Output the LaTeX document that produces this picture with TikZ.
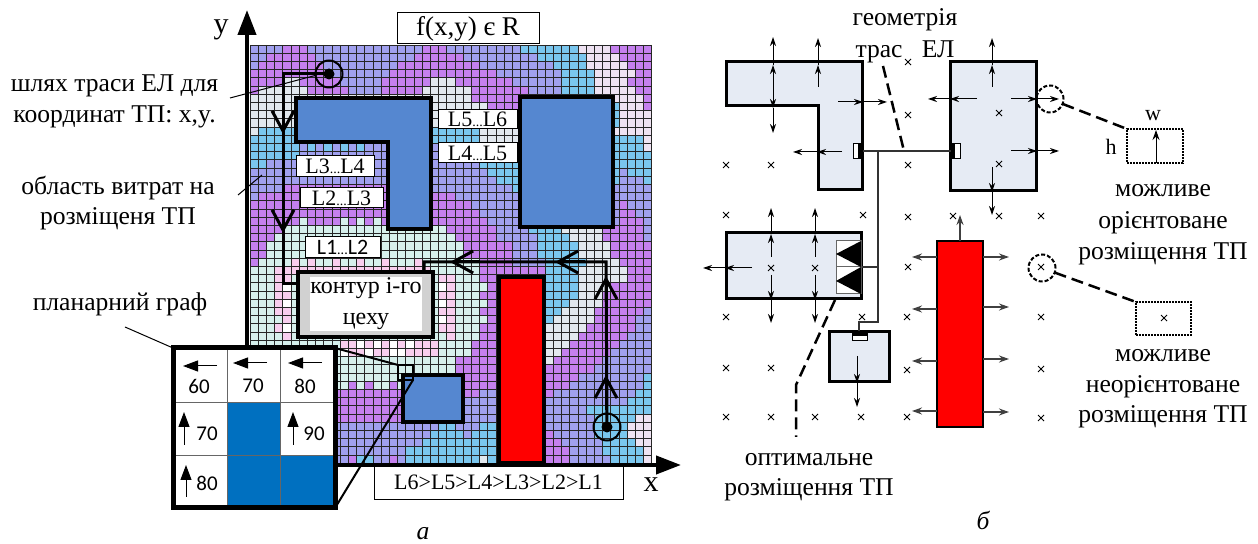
\documentclass[tikz,border=0pt]{standalone}
\usepackage{fontspec}
\setmainfont{Liberation Serif}
\setsansfont{Carlito}
\usetikzlibrary{arrows.meta, positioning, calc}
\definecolor{bv}{RGB}{196, 128, 238}
\definecolor{bp}{RGB}{160, 160, 238}
\definecolor{bs}{RGB}{122, 198, 238}
\definecolor{bg}{RGB}{226, 232, 238}
\definecolor{bl}{RGB}{238, 226, 242}
\definecolor{bt}{RGB}{214, 240, 236}
\definecolor{bk}{RGB}{248, 206, 238}
\definecolor{bw}{RGB}{255, 255, 255}
\definecolor{shopblue}{RGB}{85, 135, 208}
\definecolor{cellblue}{RGB}{0, 112, 192}
\definecolor{sitefill}{RGB}{230, 235, 244}
\tikzset{
  txt/.style        = {inner sep=0pt, outer sep=0pt, align=center, font=\fontsize{12.8}{15.3}\selectfont},
  lbox/.style       = {draw, fill=white, line width=0.5pt, inner sep=0pt, outer sep=0pt, font=\fontsize{11}{12}\selectfont},
  cellnum/.style    = {inner sep=0pt, outer sep=0pt, font=\sffamily\fontsize{10.5}{12}\selectfont},
  axisline/.style   = {line width=2pt, -{Triangle[length=12.5pt,width=9pt]}},
  routeline/.style  = {line width=1.5pt},
  routetip/.style   = {line width=1.5pt, -{Straight Barb[length=10pt,width=11pt,line width=1.5pt]}},
  shopwall/.style   = {draw, line width=2pt, fill=shopblue, line join=miter},
  sitewall/.style   = {draw, line width=1.5pt, fill=sitefill},
  tpring/.style     = {circle, draw, line width=1pt, minimum size=13.5pt, inner sep=0pt, outer sep=0pt},
  tpdot/.style      = {circle, fill, minimum size=5.5pt, inner sep=0pt, outer sep=0pt},
  cellgrid/.style   = {black!85, line width=0.35pt},
  cellarrow/.style  = {line width=0.5pt, -{Triangle[length=7.5pt,width=5.5pt]}},
  portarrow/.style  = {line width=0.5pt, -{Stealth[length=4.5pt,width=3pt]}},
  redarrow/.style   = {black!75, line width=0.75pt, -{Stealth[length=5pt,width=3.5pt]}},
  cable/.style      = {black!80, line width=0.75pt},
  leader/.style     = {line width=1.25pt, dash pattern=on 6pt off 3pt},
  dotbox/.style     = {draw, line width=1.25pt, dash pattern=on 1pt off 0.5pt, inner sep=0pt, outer sep=0pt},
  crosspt/.style    = {line width=0.5pt},
}

\begin{document}
\begin{tikzpicture}[x=0.5pt, y=-0.5pt]
\useasboundingbox (0,0) rectangle (1258,544);

% поле витрат
\begin{scope}[shift={(250,45)}, x=4.1pt, y=-4.1pt]
  \foreach \row [count=\j from 0] in {
    {p/4,v/7,p/21,v/24,p/33,s/40,l/44,v/49},
    {p/2,v/8,p/20,v/26,p/35,s/41,l/45,v/49},
    {p/1,v/9,p/18,v/28,p/37,s/41,l/46,v/49},
    {v/10,p/17,v/30,p/38,s/42,l/47,v/49},
    {v/4,g/6,v/11,p/16,v/22,g/25,v/32,p/38,s/42,l/46,v/49},
    {v/1,g/7,v/12,p/16,v/21,g/27,v/34,p/38,s/42,l/47,v/49},
    {g/27,v/34,s/44,l/48,v/49},
    {g/29,v/34,s/45,l/48,v/49},
    {g/34,s/45,l/49},
    {g/34,s/45,l/49},
    {g/1,s/28,g/34,l/49},
    {s/28,g/34,s/48,l/49},
    {s/6,p/7,s/8,p/9,s/10,p/11,s/12,p/13,s/14,p/23,s/48,l/49},
    {s/6,p/28,s/49},
    {s/2,p/28,s/49},
    {p/29,s/45,p/46,s/49},
    {p/30,s/45,p/48,s/49},
    {p/4,v/17,p/32,s/34,p/49},
    {p/1,v/25,p/49},
    {v/27,p/45,v/46,p/49},
    {v/28,p/45,v/47,p/49},
    {v/6,t/7,v/11,t/12,v/13,t/14,v/15,t/16,v/29,p/45,v/48,p/49},
    {v/4,t/24,v/30,p/34,s/38,g/43,v/48,p/49},
    {v/3,t/25,v/30,p/35,s/39,g/43,v/48,p/49},
    {v/2,t/26,v/32,p/35,s/40,g/44,v/49},
    {v/2,t/26,v/32,p/35,s/40,g/44,v/49},
    {v/1,t/5,k/6,t/7,k/8,t/10,k/11,t/13,k/14,t/16,k/17,t/20,k/21,t/28,v/32,p/36,s/41,g/45,v/49},
    {t/3,k/22,t/28,v/36,s/40,g/46,v/49},
    {t/3,k/5,t/23,k/25,t/28,v/36,s/40,g/46,v/49},
    {t/3,k/4,w/5,t/23,w/24,k/25,t/29,v/36,s/40,g/44,v/49},
    {t/3,k/5,t/23,k/25,t/28,v/36,s/40,g/43,v/49},
    {t/3,k/4,w/5,t/23,w/24,k/25,t/29,v/36,s/39,g/43,v/49},
    {t/3,k/5,t/23,k/25,t/28,v/36,s/38,g/42,v/48,p/49},
    {t/4,k/5,t/23,w/24,k/25,t/29,v/36,s/37,g/42,v/47,p/49},
    {t/3,k/4,w/5,t/23,k/25,t/28,v/36,g/41,v/47,p/49},
    {t/4,k/5,t/24,k/25,t/28,v/36,g/40,v/46,p/49},
    {t/11,k/13,w/14,k/15,w/16,k/17,w/18,k/19,w/20,k/23,t/27,v/36,g/39,v/45,p/49},
    {t/11,w/12,k/14,w/15,k/17,w/19,k/23,t/27,v/36,g/38,v/44,p/49},
    {t/25,v/36,g/37,v/43,p/49},
    {t/25,v/42,p/49},
    {t/26,v/40,p/48,s/49},
    {t/12,v/13,t/14,v/15,t/17,v/18,t/19,v/39,p/48,s/49},
    {v/28,p/36,v/37,p/47,s/49},
    {v/26,p/46,s/49},
    {v/26,p/41,s/49},
    {v/26,p/42,s/47,l/49},
    {p/23,s/25,p/28,s/30,p/42,s/46,l/49},
    {p/22,s/26,p/27,s/36,v/37,p/42,s/46,l/49},
    {p/21,s/36,v/38,p/43,s/47,l/49},
    {p/19,s/36,v/39,p/43,s/48,l/49},
    {p/12,v/13,s/15,p/17,v/18,p/19,s/28,g/29,s/36,v/39,p/44,s/48,l/49}%
  }{
    \foreach \bandc/\bande [remember=\bande as \bands (initially 0)] in \row {
      \fill[b\bandc] (\bands,\j) rectangle (\bande,\j+1);
    }
  }
  \foreach \i in {0,...,49} \draw[cellgrid] (\i,0) -- (\i,51);
  \foreach \i in {0,...,51} \draw[cellgrid] (0,\i) -- (49,\i);
\end{scope}

% цехи
\draw[shopwall] (296,98) -- (431,98) -- (431,229) -- (388,229) -- (388,142) -- (296,142) -- cycle;
\draw[shopwall] (520,97) rectangle (613,227);
\draw[shopwall] (403,375) rectangle (463,422);
\draw[shopwall, fill=red] (499,277) rectangle (544,463);
\node[draw, line width=2pt, fill=black!18, minimum width=67.5pt, minimum height=32.5pt, inner sep=0pt, outer sep=0pt] (shop) at (365.5,304.5) {};
\node[txt, font=\fontsize{12}{15.5}\selectfont, fill=white, minimum width=53pt, minimum height=27pt] (shoptext) at (366,304) {контур і-го\\цеху};

% траси ЕЛ
\node[tpring] (tpa) at (329,74) {};
\node[tpdot] at (tpa.center) {};
\node[tpring] (tpb) at (607,427) {};
\node[tpdot] at (tpb.center) {};
\coordinate (ra) at (283,74);
\coordinate (rb) at (283,284);
\coordinate (rc) at (606,262);
\coordinate (rd) at (424,262);
\draw[routeline] (tpa.center) -- (ra) -- (rb) -- (shop.west |- rb);
\draw[routeline] (tpb.center) -- (rc) -- (rd) -- (rd |- shop.north);
\draw[routetip] (283,105) -- (283,134);
\draw[routetip] (283,200) -- (283,233);
\draw[routetip] (606,310) -- (606,276);
\draw[routetip] (606,410) -- (606,375);
\draw[routetip] (480,262) -- (450,262);
\draw[routetip] (585,262) -- (555,262);

% рівні
\node[lbox, minimum width=39.5pt, minimum height=9.5pt] (l56) at (477.5,119.5) {L5{\scriptsize...}L6};
\node[lbox, minimum width=39.5pt, minimum height=10pt] (l45) at (477.5,153) {L4{\scriptsize...}L5};
\node[lbox, minimum width=39pt, minimum height=10.5pt] (l34) at (335,166.5) {L3{\scriptsize...}L4};
\node[lbox, minimum width=41.5pt, minimum height=10pt] (l23) at (341.5,198) {L2{\scriptsize...}L3};
\node[lbox, minimum width=37.5pt, minimum height=10.5pt, font=\sffamily\fontsize{11}{12}\selectfont] (l12) at (342.5,247.5) {L1{\scriptsize...}L2};
\node[lbox, minimum width=71pt, minimum height=15.5pt, font=\fontsize{13.5}{15}\selectfont] (fxy) at (468,28.5) {f(x,y) є R};
\node[lbox, minimum width=124.5pt, minimum height=17pt] (order) at (498.5,482.5) {L6>L5>L4>L3>L2>L1};

% осі
\draw[axisline] (247,467) -- (247,10);
\draw[axisline] (245,465) -- (681,465);
\node[txt, font=\fontsize{15}{16}\selectfont] (yname) at (221,30) {y};
\node[txt, font=\fontsize{15}{16}\selectfont] (xname) at (651,485) {x};

% планарний граф
\node[draw=black!60, fill=white, line width=0.5pt, minimum width=81pt, minimum height=80pt, inner sep=0pt, outer sep=0pt] (inset) at (254,428) {};
\fill[cellblue] (227,403) rectangle (280,456);
\fill[cellblue] (227,456) rectangle (335,508);
\draw[black!60, line width=0.5pt] (227,348) -- (227,508);
\draw[black!60, line width=0.5pt] (280,348) -- (280,508);
\draw[black!60, line width=0.5pt] (173,403) -- (335,403);
\draw[black!60, line width=0.5pt] (173,456) -- (335,456);
\node[draw, line width=2.5pt, minimum width=81pt, minimum height=80pt, inner sep=0pt, outer sep=0pt] (frame) at (254,428) {};
\node[cellnum] (n60) at (199,386) {60};
\node[cellnum] (n70a) at (253,386) {70};
\node[cellnum] (n80a) at (305,386) {80};
\node[cellnum] (n70b) at (207,434) {70};
\node[cellnum] (n90) at (314,434) {90};
\node[cellnum] (n80b) at (207,483) {80};
\draw[cellarrow] (217,366) -- (183,366);
\draw[cellarrow] (267,363) -- (233,363);
\draw[cellarrow] (322,363) -- (288,363);
\draw[cellarrow] (184,445) -- (184,412);
\draw[cellarrow] (293,445) -- (293,412);
\draw[cellarrow] (186,497) -- (186,465);
\node[draw, line width=1pt, minimum width=7.5pt, minimum height=7.5pt, inner sep=0pt, outer sep=0pt] (zoomcell) at (405.5,372.5) {};
\draw[line width=1pt] (frame.north east) -- (zoomcell.north west);
\draw[line width=1pt] (frame.south east) -- (zoomcell.south east);

% підписи а
\node[txt] (trass) at (114.5,101.5) {шлях траси ЕЛ для\\координат ТП: x,y.};
\node[txt] (area) at (118,203) {область витрат на\\розміщеня ТП};
\node[txt] (graph) at (120,304) {планарний граф};
\coordinate (trassa) at (230,98);
\coordinate (trassb) at (317,75);
\coordinate (areaa) at (238,195);
\coordinate (areab) at (262,175);
\coordinate (grapha) at (125,327);
\draw[line width=0.5pt] (trassa) -- (trassb);
\draw[line width=0.5pt] (areaa) -- (areab);
\draw[line width=0.5pt] (grapha) -- (frame.north west);
\node[txt, font=\itshape\fontsize{12.8}{15}\selectfont] (capa) at (423,534) {а};

% майданчики б
\draw[sitewall] (726,62) -- (862,62) -- (862,190) -- (818,190) -- (818,106) -- (726,106) -- cycle;
\draw[sitewall] (950.5,62) rectangle (1036,191);
\draw[sitewall] (726,233) rectangle (861,299);
\draw[sitewall] (829,332) rectangle (889,382);
\draw[line width=0.75pt, fill=red] (937,241) rectangle (983,427);

% кабелі
\draw[cable] (862,151) -- (951,151);
\draw[cable] (878,151) -- (878,322) -- (859,322) -- (859,332);
\draw[cable] (861,267) -- (878,267);
\draw[line width=0.5pt, fill=white] (853,144) rectangle (862,159);
\fill (858,144) rectangle (862,159);
\draw[line width=0.5pt, fill=white] (951,144) rectangle (960,159);
\fill (951,144) rectangle (955,159);
\draw[line width=0.5pt, fill=white] (852,332) rectangle (867,341);
\fill (852,332) rectangle (867,336);
\draw[black!60, line width=0.5pt, fill=white] (836,241) rectangle (861,294);
\draw[black!60, line width=0.5pt] (836,267) -- (861,267);
\fill (836,254) -- (861,241) -- (861,267) -- cycle;
\fill (836,281) -- (861,267) -- (861,294) -- cycle;

% стрілки орієнтації
\foreach \ax/\ay/\mx/\my/\bx/\by in {
  773/87/773/65/773/37, 773/86/773/108/773/133, 818/87/818/65/818/38,
  838/102/863/102/887/102, 842/152/817/152/793/152, 977/99/950/99/928/99,
  992/87/992/65/992/38, 1011/99/1037/99/1059/99, 1011/151/1037/151/1059/151,
  992/167/992/192/992/215, 771/257/771/234/771/208, 815/257/815/234/815/208,
  771/275/771/300/771/323, 815/275/815/300/815/323, 752/268/725/268/703/268,
  857/356/857/383/857/407%
}{
  \draw[portarrow] (\ax,\ay) -- (\mx,\my);
  \draw[portarrow] (\mx,\my) -- (\bx,\by);
}
\foreach \yy in {257,309,361,411} \draw[redarrow] (937,\yy) -- (912,\yy);
\foreach \yy in {257,307,359,412} \draw[redarrow] (983,\yy) -- (1009,\yy);
\draw[redarrow] (960,241) -- (960,215);

% можливі позиції
\foreach \xx/\yy in {
  908/62, 908/115, 726/165, 771/165, 908/165, 999/113, 999/164,
  726/215, 863/215, 908/217, 953/216, 999/216, 1041/216,
  771/268, 815/268, 908/267, 726/317, 862/317, 907/317,
  726/368, 771/368, 907/370, 726/417, 771/417, 815/417, 861/417, 907/417,
  1041/267, 1041/317, 1041/369, 1041/418, 1164/318%
}{
  \draw[crosspt] (\xx-3,\yy-3) -- (\xx+3,\yy+3);
  \draw[crosspt] (\xx-3,\yy+3) -- (\xx+3,\yy-3);
}

% виноски б
\node[draw, circle, line width=1pt, dash pattern=on 2pt off 1pt, minimum size=13.5pt, inner sep=0pt, outer sep=0pt] (oria) at (1050,99) {};
\node[draw, circle, line width=1pt, dash pattern=on 2pt off 1pt, minimum size=13.5pt, inner sep=0pt, outer sep=0pt] (nora) at (1042,268) {};
\node[dotbox, minimum width=28pt, minimum height=17pt] (oribox) at (1155,146) {};
\node[dotbox, minimum width=27.5pt, minimum height=16.5pt] (norbox) at (1163.5,318.5) {};
\draw[line width=0.5pt, -{Stealth[length=5pt,width=3.5pt]}] (1156,163) -- (1156,130);
\draw[leader] (oria) -- (oribox.north west);
\draw[leader] (nora) -- (norbox.north west);
\coordinate (geoa) at (883,66);
\coordinate (geob) at (904,151);
\coordinate (opta) at (835,300);
\coordinate (optb) at (796,385);
\coordinate (optc) at (796,437);
\draw[leader] (geoa) -- (geob);
\draw[leader] (opta) -- (optb) -- (optc);

% підписи б
\node[txt, font=\fontsize{11}{13}\selectfont] (wname) at (1153,116) {w};
\node[txt, font=\fontsize{11}{13}\selectfont] (hname) at (1111,147) {h};
\node[txt, font=\fontsize{12.8}{16}\selectfont] (geom) at (905,36) {геометрія\\трас\ \ \ ЕЛ};
\node[txt, font=\fontsize{12.8}{15.7}\selectfont] (oritext) at (1163,225) {можливе\\орієнтоване\\розміщення ТП};
\node[txt] (nortext) at (1163,389) {можливе\\неорієнтоване\\розміщення ТП};
\node[txt] (opttext) at (809,477) {оптимальне\\розміщення ТП};
\node[txt, font=\itshape\fontsize{12.8}{15}\selectfont] (capb) at (983,520) {б};
\end{tikzpicture}
\end{document}
